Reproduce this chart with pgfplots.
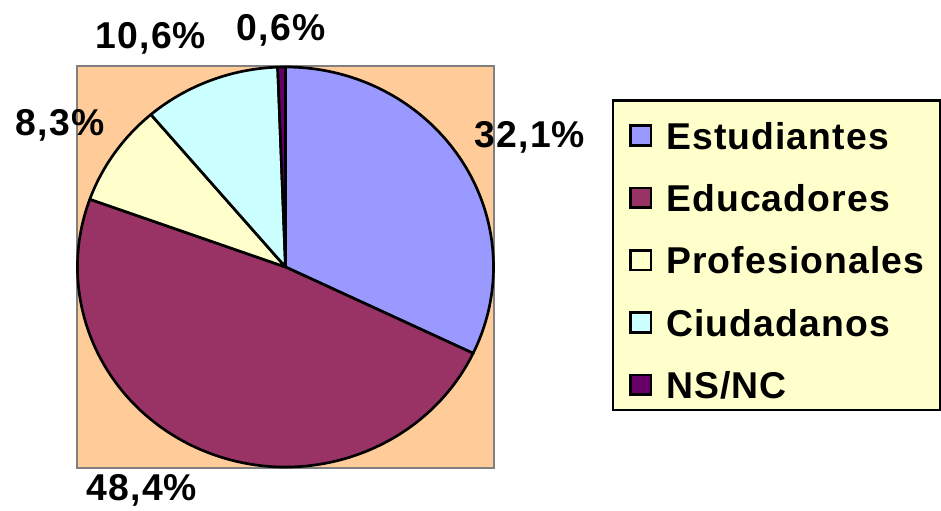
\documentclass[border=0pt]{standalone}
\usepackage{pgfplots}
\pgfplotsset{compat=1.18}
\usepackage{pgfplotstable}
\usepackage{fontspec}
\setmainfont{Liberation Sans}[LetterSpace=3]
\definecolor{est}{HTML}{9999FF}
\definecolor{edu}{HTML}{993366}
\definecolor{pro}{HTML}{FFFFCC}
\definecolor{ciu}{HTML}{CCFFFF}
\definecolor{nsnc}{HTML}{660066}
\definecolor{bgpeach}{HTML}{FFCC99}
\definecolor{legbg}{HTML}{FFFFCC}
\definecolor{boxgray}{HTML}{808080}
\newcommand{\lbl}{\fontsize{28}{32}\selectfont\bfseries}

\pgfplotstableread{
label value
Estudiantes 32.1
Educadores 48.4
Profesionales 8.3
Ciudadanos 10.6
NS/NC 0.6
}\piedata

\pgfplotsset{sq/.style={legend image code/.code={\draw[fill=#1, draw=black, line width=2pt] (1pt,2.95pt) rectangle (16.25pt,17.75pt);}}}

\begin{document}
\begin{tikzpicture}
\pgfplotstablegetelem{0}{value}\of\piedata \let\vA\pgfplotsretval
\pgfplotstablegetelem{1}{value}\of\piedata \let\vB\pgfplotsretval
\pgfplotstablegetelem{2}{value}\of\piedata \let\vC\pgfplotsretval
\pgfplotstablegetelem{3}{value}\of\piedata \let\vD\pgfplotsretval
\pgfplotstablegetelem{4}{value}\of\piedata \let\vE\pgfplotsretval
\pgfmathsetmacro\aA{90}
\pgfmathsetmacro\aB{\aA-3.6*\vA}
\pgfmathsetmacro\aC{\aB-3.6*\vB}
\pgfmathsetmacro\aD{\aC-3.6*\vC}
\pgfmathsetmacro\aE{\aD-3.6*\vD}
\pgfmathsetmacro\aF{\aE-3.6*\vE}
\begin{axis}[
  scale only axis,
  width=312.75pt, height=301.5pt,
  xmin=-1.0024, xmax=1.0024, ymin=-1.005, ymax=1.005,
  xtick=\empty, ytick=\empty,
  clip=false,
  axis background/.style={fill=bgpeach},
  axis line style={draw=boxgray, line width=2pt},
  legend style={at={(1.283,0.9167)}, anchor=north west,
    fill=legbg, draw=black, line width=1.75pt,
    inner xsep=12pt, inner ysep=8.25pt, row sep=18.7pt,
    column sep=10.5pt,
    font=\lbl,
    nodes={inner sep=0pt, text height=28.1pt, text depth=0pt},
    cells={anchor=base west}},
]
\addlegendimage{sq=est}
\addlegendentry{Estudiantes}
\addlegendimage{sq=edu}
\addlegendentry{Educadores}
\addlegendimage{sq=pro}
\addlegendentry{Profesionales}
\addlegendimage{sq=ciu}
\addlegendentry{Ciudadanos}
\addlegendimage{sq=nsnc}
\addlegendentry{NS/NC}

\filldraw[fill=est, draw=black, line width=2pt, line join=round]
  (axis cs:0,0) -- (axis cs:{cos(\aA)},{sin(\aA)}) arc[start angle=\aA, end angle=\aB, x radius=156pt, y radius=150pt] -- cycle;
\filldraw[fill=edu, draw=black, line width=2pt, line join=round]
  (axis cs:0,0) -- (axis cs:{cos(\aB)},{sin(\aB)}) arc[start angle=\aB, end angle=\aC, x radius=156pt, y radius=150pt] -- cycle;
\filldraw[fill=pro, draw=black, line width=2pt, line join=round]
  (axis cs:0,0) -- (axis cs:{cos(\aC)},{sin(\aC)}) arc[start angle=\aC, end angle=\aD, x radius=156pt, y radius=150pt] -- cycle;
\filldraw[fill=ciu, draw=black, line width=2pt, line join=round]
  (axis cs:0,0) -- (axis cs:{cos(\aD)},{sin(\aD)}) arc[start angle=\aD, end angle=\aE, x radius=156pt, y radius=150pt] -- cycle;
\filldraw[fill=nsnc, draw=black, line width=2pt, line join=round]
  (axis cs:0,0) -- (axis cs:{cos(\aE)},{sin(\aE)}) arc[start angle=\aE, end angle=\aF, x radius=156pt, y radius=150pt] -- cycle;

\node[font=\lbl] at (axis cs:1.1755,0.65) {32,1\%};
\node[font=\lbl] at (axis cs:-0.690,-1.115) {48,4\%};
\node[font=\lbl] at (axis cs:-1.084,0.71) {8,3\%};
\node[font=\lbl] at (axis cs:-0.647,1.145) {10,6\%};
\node[font=\lbl] at (axis cs:-0.0216,1.185) {0,6\%};

\path (rel axis cs:-0.18465,1.16418) coordinate (TL);
\path (rel axis cs:2.07194,-0.10448) coordinate (BR);
\end{axis}
\pgfresetboundingbox
\useasboundingbox (TL) rectangle (BR);
\end{tikzpicture}
\end{document}
